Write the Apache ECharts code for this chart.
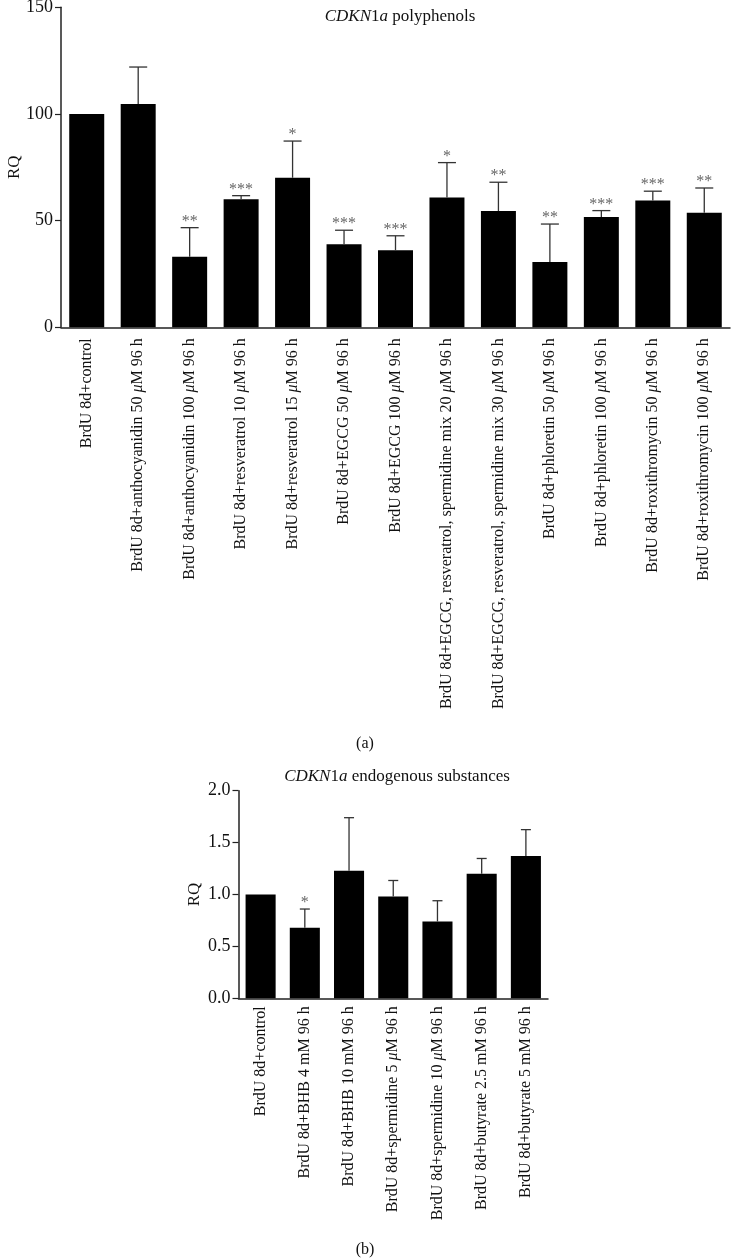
<!DOCTYPE html>
<html>
<head>
<meta charset="utf-8">
<script src="https://cdn.jsdelivr.net/npm/echarts@6/dist/echarts.min.js"></script>
<style>
  html, body { margin: 0; padding: 0; background: #fff; }
  #chart { width: 731px; height: 1260px; }
</style>
</head>
<body>
<div id="chart"></div>
<script>
// (a) CDKN1a polyphenols
var catsA = [
  'BrdU 8d+control',
  'BrdU 8d+anthocyanidin 50 μM 96 h',
  'BrdU 8d+anthocyanidin 100 μM 96 h',
  'BrdU 8d+resveratrol 10 μM 96 h',
  'BrdU 8d+resveratrol 15 μM 96 h',
  'BrdU 8d+EGCG 50 μM 96 h',
  'BrdU 8d+EGCG 100 μM 96 h',
  'BrdU 8d+EGCG, resveratrol, spermidine mix 20 μM 96 h',
  'BrdU 8d+EGCG, resveratrol, spermidine mix 30 μM 96 h',
  'BrdU 8d+phloretin 50 μM 96 h',
  'BrdU 8d+phloretin 100 μM 96 h',
  'BrdU 8d+roxithromycin 50 μM 96 h',
  'BrdU 8d+roxithromycin 100 μM 96 h'
]
var valsA = [100, 104.7, 33.1, 60, 70.1, 38.9, 36.1, 60.8, 54.5, 30.6, 51.7, 59.4, 53.7]
var sdA = [0, 17.3, 13.6, 1.7, 17.2, 6.6, 6.8, 16.4, 13.5, 17.8, 3.0, 4.4, 11.6]
var sigA = ['', '', '**', '***', '*', '***', '***', '*', '**', '**', '***', '***', '**']
var ticksA = [0, 50, 100, 150]

// (b) CDKN1a endogenous substances
var catsB = [
  'BrdU 8d+control',
  'BrdU 8d+BHB 4 mM 96 h',
  'BrdU 8d+BHB 10 mM 96 h',
  'BrdU 8d+spermidine 5 μM 96 h',
  'BrdU 8d+spermidine 10 μM 96 h',
  'BrdU 8d+butyrate 2.5 mM 96 h',
  'BrdU 8d+butyrate 5 mM 96 h'
]
var valsB = [1.0, 0.68, 1.23, 0.98, 0.74, 1.2, 1.37]
var sdB = [0, 0.18, 0.51, 0.155, 0.2, 0.147, 0.255]
var sigB = ['', '*', '', '', '', '', '']
var ticksB = [0, 0.5, 1.0, 1.5, 2.0]

var serif = "'Liberation Serif', 'DejaVu Serif', serif"

function muLabel(v) {
  return v.replace('μ', '{i|μ}')
}

function errRender(sig, capW) {
  return function(params, api) {
    var i = params.dataIndex
    var top = api.coord([api.value(0), api.value(2)])
    var base = api.coord([api.value(0), api.value(1)])
    var children = []
    if (api.value(2) > api.value(1)) {
      var st = { stroke: '#333', lineWidth: 1.3 }
      children.push({ type: 'line', shape: { x1: top[0], y1: base[1], x2: top[0], y2: top[1] }, style: st })
      children.push({ type: 'line', shape: { x1: top[0] - capW / 2, y1: top[1], x2: top[0] + capW / 2, y2: top[1] }, style: st })
    }
    if (sig[i]) {
      children.push({
        type: 'text',
        x: top[0], y: top[1] - 6,
        style: { text: sig[i], fill: '#666', font: '16px ' + serif, align: 'center', verticalAlign: 'middle' }
      })
    }
    return { type: 'group', children: children }
  }
}

var chart = echarts.init(document.getElementById('chart'))

var xAxisBase = {
  type: 'category',
  axisLine: { lineStyle: { color: '#222', width: 1.5 } },
  axisTick: { alignWithLabel: true, length: 5, lineStyle: { color: '#222', width: 1.2 } },
  axisLabel: {
    rotate: 90, interval: 0, color: '#111', fontFamily: serif, fontSize: 16,
    formatter: muLabel,
    rich: { i: { fontStyle: 'italic', fontFamily: serif, fontSize: 16, color: '#111' } }
  }
}

var yAxisBase = {
  type: 'value',
  nameLocation: 'middle',
  nameRotate: 90,
  nameMoveOverlap: false,
  nameTextStyle: { fontFamily: serif, fontSize: 17, color: '#111' },
  axisLine: { show: true, lineStyle: { color: '#222', width: 1.5 } },
  axisTick: { show: true, length: 6, lineStyle: { color: '#222', width: 1.2 } },
  splitLine: { show: false },
  axisLabel: { color: '#111', fontFamily: serif, fontSize: 18, margin: 8 }
}

chart.setOption({
  animation: false,
  title: [{
    text: '{i|CDKN}1{i|a} polyphenols',
    left: 395, top: 3, textAlign: 'center',
    textStyle: {
      fontFamily: serif, fontSize: 17, fontWeight: 'normal', color: '#111',
      rich: { i: { fontStyle: 'italic', fontFamily: serif, fontSize: 17, color: '#111' } }
    }
  }, {
    text: '{i|CDKN}1{i|a} endogenous substances',
    left: 392, top: 763, textAlign: 'center',
    textStyle: {
      fontFamily: serif, fontSize: 17, fontWeight: 'normal', color: '#111',
      rich: { i: { fontStyle: 'italic', fontFamily: serif, fontSize: 17, color: '#111' } }
    }
  }],
  graphic: [
    { type: 'text', x: 365, y: 744, style: { text: '(a)', font: '16px ' + serif, fill: '#111', align: 'center', verticalAlign: 'middle' } },
    { type: 'text', x: 365, y: 1250, style: { text: '(b)', font: '16px ' + serif, fill: '#111', align: 'center', verticalAlign: 'middle' } }
  ],
  grid: [
    { left: 61, top: 7.3, width: 669, height: 320, containLabel: false, outerBoundsMode: 'none' },
    { left: 238.5, top: 790.7, width: 309.5, height: 207.6, containLabel: false, outerBoundsMode: 'none' }
  ],
  xAxis: [
    Object.assign({}, xAxisBase, { gridIndex: 0, data: catsA, axisLabel: Object.assign({}, xAxisBase.axisLabel, { margin: 11 }) }),
    Object.assign({}, xAxisBase, { gridIndex: 1, data: catsB, axisLabel: Object.assign({}, xAxisBase.axisLabel, { margin: 8 }) })
  ],
  yAxis: [
    Object.assign({}, yAxisBase, { gridIndex: 0, name: 'RQ', nameGap: 38, min: ticksA[0], max: ticksA[ticksA.length - 1], interval: 50 }),
    Object.assign({}, yAxisBase, {
      gridIndex: 1, name: 'RQ', nameGap: 35, min: ticksB[0], max: ticksB[ticksB.length - 1], interval: 0.5,
      axisLabel: Object.assign({}, yAxisBase.axisLabel, { formatter: function(v) { return v.toFixed(1) } })
    })
  ],
  series: [
    { type: 'bar', xAxisIndex: 0, yAxisIndex: 0, data: valsA, barWidth: '68%', itemStyle: { color: '#000' } },
    {
      type: 'custom', xAxisIndex: 0, yAxisIndex: 0, z: 3,
      renderItem: errRender(sigA, 18),
      data: valsA.map(function(v, i) { return [i, v, v + sdA[i]] })
    },
    { type: 'bar', xAxisIndex: 1, yAxisIndex: 1, data: valsB, barWidth: '68%', itemStyle: { color: '#000' } },
    {
      type: 'custom', xAxisIndex: 1, yAxisIndex: 1, z: 3,
      renderItem: errRender(sigB, 10),
      data: valsB.map(function(v, i) { return [i, v, v + sdB[i]] })
    }
  ]
})
</script>
</body>
</html>
